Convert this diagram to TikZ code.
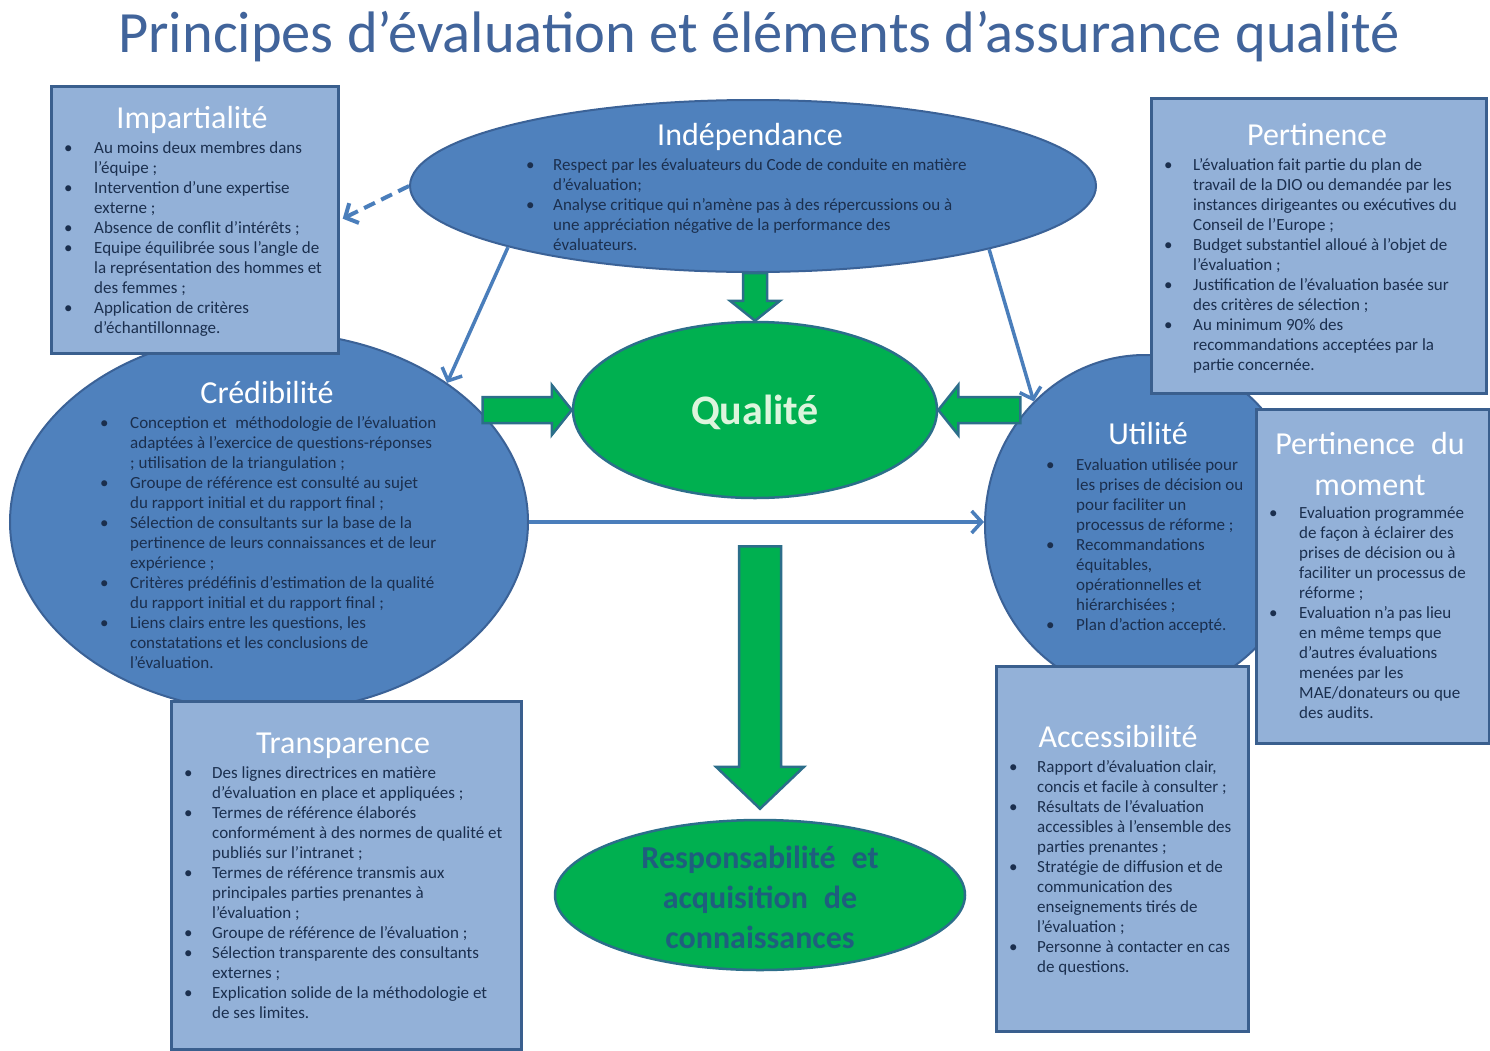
\documentclass[tikz,border=0pt]{standalone}
\usepackage{fontspec}
\setmainfont{Carlito}
\usetikzlibrary{arrows.meta,calc,shapes.geometric}

\definecolor{titleblue}{HTML}{41649B}
\definecolor{boxfill}{HTML}{93B1D8}
\definecolor{boxline}{HTML}{3A5F8E}
\definecolor{ellfill}{HTML}{4F81BD}
\definecolor{ellline}{HTML}{3B6297}
\definecolor{bodytext}{HTML}{1B2F4E}
\definecolor{qgreen}{HTML}{00B050}
\definecolor{gline}{HTML}{2C6E8A}
\definecolor{qtext}{HTML}{DDF5DD}
\definecolor{rtext}{HTML}{1F5E7E}
\definecolor{linkblue}{HTML}{4A7EBB}

% bullet list: #1 = indent of the text, #2 = rows "\textbullet & line \\ & line \\"
\newcommand{\itemlist}[2]{\begin{tabular}[t]{@{}p{#1}@{}l@{}}#2\end{tabular}}

% outlined green block arrow from #1 to #2
% #3 shaft half width, #4 head half width, #5 head length
\newcommand{\blockarrow}[5]{%
  \coordinate (ba-h) at ($(#2)!#5!(#1)$);
  \draw[garrow] ($(#1)!#3!90:(#2)$) -- ($(ba-h)!#3!90:(#2)$) -- ($(ba-h)!#4!90:(#2)$)
    -- (#2) -- ($(ba-h)!#4!-90:(#2)$) -- ($(ba-h)!#3!-90:(#2)$) -- ($(#1)!#3!-90:(#2)$) -- cycle;
}

\begin{document}
\begin{tikzpicture}[x=1pt,y=-1pt,
  panel/.style={rectangle,draw=boxline,line width=3pt,fill=boxfill,inner sep=0pt,anchor=north west},
  oval/.style={ellipse,draw=ellline,line width=2pt,fill=ellfill,inner sep=0pt},
  goval/.style={ellipse,draw=gline,line width=2.5pt,fill=qgreen,inner sep=0pt},
  hdr/.style={text=white,font=\fontsize{32}{38}\selectfont,inner sep=0pt,anchor=base},
  items/.style={text=bodytext,font=\fontsize{17}{20}\selectfont,inner sep=0pt,anchor=base west},
  link/.style={draw=linkblue,line width=3.5pt,-{Straight Barb[length=10pt,width=22pt]}},
  garrow/.style={fill=qgreen,draw=gline,line width=2.5pt,line join=miter},
]
\useasboundingbox[fill=white] (0,0) rectangle (1490,1050);

% heading
\node[font=\fontsize{58.5}{66}\selectfont,text=titleblue,inner sep=0pt,anchor=base] (title) at (759,52)
  {Principes d’évaluation et éléments d’assurance qualité};

% large ovals (behind the boxes)
\node[oval,minimum width=518pt,minimum height=380pt] (cred) at (269,522) {};
\node[oval,minimum width=320pt,minimum height=340pt] (util) at (1145,525) {};
\node[oval,minimum width=686pt,minimum height=172pt] (indep) at (753,186) {};

% green ovals
\node[goval,minimum width=364pt,minimum height=176pt] (qual) at (755,410) {};
\node[goval,minimum width=410pt,minimum height=150pt] (resp) at (760,895) {};

% boxes
\node[panel,minimum width=287pt,minimum height=267pt] (impart) at (50,85) {};
\node[panel,minimum width=335pt,minimum height=295pt] (pert) at (1150,97) {};
\node[panel,minimum width=233pt,minimum height=334pt] (moment) at (1255,408) {};
\node[panel,minimum width=350pt,minimum height=348pt] (transp) at (170,700) {};
\node[panel,minimum width=252pt,minimum height=365pt] (access) at (995,665) {};

% thin blue links
\draw[link,dash pattern=on 12pt off 7pt,line width=4pt,shorten >=3pt] (indep.west) -- (impart.east);
\draw[link] (indep.194) -- (cred.38);
\draw[link] (indep.-15) -- (util.132);
\draw[link] (cred.east) -- (cred.east -| util.west);

% green block arrows
\blockarrow{indep.south -| qual.north}{qual.north}{12pt}{25pt}{20pt}
\blockarrow{cred.27 |- qual.west}{qual.west}{13pt}{25pt}{20pt}
\blockarrow{util.139 |- qual.east}{qual.east}{13pt}{25pt}{20pt}
\coordinate (bigtop) at ($(resp.north |- qual.south)+(0,47)$);
\coordinate (bigtip) at ($(resp.north)+(0,-10)$);
\blockarrow{bigtop}{bigtip}{21pt}{44pt}{42pt}

% centre labels
\node[font=\fontsize{42}{50}\selectfont\bfseries,text=qtext,inner sep=0pt,anchor=base] (qual-t) at (755,424) {Qualité};
\node[font=\fontsize{32}{40}\selectfont\bfseries,text=rtext,inner sep=0pt,align=center] (resp-t) at (760,897)
  {Responsabilité\enspace et\\acquisition\enspace de\\connaissances};

% Impartialité
\node[hdr] (impart-t) at (192,128) {Impartialité};
\node[items] (impart-l) at (64,153) {\itemlist{30pt}{%
\textbullet & Au moins deux membres dans\\
 & l’équipe ;\\
\textbullet & Intervention d’une expertise\\
 & externe ;\\
\textbullet & Absence de conflit d’intérêts ;\\
\textbullet & Equipe équilibrée sous l’angle de\\
 & la représentation des hommes et\\
 & des femmes ;\\
\textbullet & Application de critères\\
 & d’échantillonnage.\\}};

% Indépendance
\node[hdr] (indep-t) at (750,145) {Indépendance};
\node[items] (indep-l) at (526,170) {\itemlist{27pt}{%
\textbullet & Respect par les évaluateurs du Code de conduite en matière\\
 & d’évaluation;\\
\textbullet & Analyse critique qui n’amène pas à des répercussions ou à\\
 & une appréciation négative de la performance des\\
 & évaluateurs.\\}};

% Pertinence
\node[hdr] (pert-t) at (1317,145) {Pertinence};
\node[items] (pert-l) at (1164,170) {\itemlist{29pt}{%
\textbullet & L’évaluation fait partie du plan de\\
 & travail de la DIO ou demandée par les\\
 & instances dirigeantes ou exécutives du\\
 & Conseil de l’Europe ;\\
\textbullet & Budget substantiel alloué à l’objet de\\
 & l’évaluation ;\\
\textbullet & Justification de l’évaluation basée sur\\
 & des critères de sélection ;\\
\textbullet & Au minimum 90\% des\\
 & recommandations acceptées par la\\
 & partie concernée.\\}};

% Crédibilité
\node[hdr] (cred-t) at (267,403) {Crédibilité};
\node[items] (cred-l) at (100,428) {\itemlist{30pt}{%
\textbullet & Conception et\enspace méthodologie de l’évaluation\\
 & adaptées à l’exercice de questions-réponses\\
 & ; utilisation de la triangulation ;\\
\textbullet & Groupe de référence est consulté au sujet\\
 & du rapport initial et du rapport final ;\\
\textbullet & Sélection de consultants sur la base de la\\
 & pertinence de leurs connaissances et de leur\\
 & expérience ;\\
\textbullet & Critères prédéfinis d’estimation de la qualité\\
 & du rapport initial et du rapport final ;\\
\textbullet & Liens clairs entre les questions, les\\
 & constatations et les conclusions de\\
 & l’évaluation.\\}};

% Utilité
\node[hdr] (util-t) at (1148,444) {Utilité};
\node[items] (util-l) at (1046,470) {\itemlist{30pt}{%
\textbullet & Evaluation utilisée pour\\
 & les prises de décision ou\\
 & pour faciliter un\\
 & processus de réforme ;\\
\textbullet & Recommandations\\
 & équitables,\\
 & opérationnelles et\\
 & hiérarchisées ;\\
\textbullet & Plan d’action accepté.\\}};

% Pertinence du moment
\node[hdr] (moment-t1) at (1370,454) {Pertinence\enspace du};
\node[hdr] (moment-t2) at (1370,495) {moment};
\node[items] (moment-l) at (1269,518) {\itemlist{30pt}{%
\textbullet & Evaluation programmée\\
 & de façon à éclairer des\\
 & prises de décision ou à\\
 & faciliter un processus de\\
 & réforme ;\\
\textbullet & Evaluation n’a pas lieu\\
 & en même temps que\\
 & d’autres évaluations\\
 & menées par les\\
 & MAE/donateurs ou que\\
 & des audits.\\}};

% Transparence
\node[hdr] (transp-t) at (343,753) {Transparence};
\node[items] (transp-l) at (184,778) {\itemlist{28pt}{%
\textbullet & Des lignes directrices en matière\\
 & d’évaluation en place et appliquées ;\\
\textbullet & Termes de référence élaborés\\
 & conformément à des normes de qualité et\\
 & publiés sur l’intranet ;\\
\textbullet & Termes de référence transmis aux\\
 & principales parties prenantes à\\
 & l’évaluation ;\\
\textbullet & Groupe de référence de l’évaluation ;\\
\textbullet & Sélection transparente des consultants\\
 & externes ;\\
\textbullet & Explication solide de la méthodologie et\\
 & de ses limites.\\}};

% Accessibilité
\node[hdr] (access-t) at (1118,747) {Accessibilité};
\node[items] (access-l) at (1009,772) {\itemlist{28pt}{%
\textbullet & Rapport d’évaluation clair,\\
 & concis et facile à consulter ;\\
\textbullet & Résultats de l’évaluation\\
 & accessibles à l’ensemble des\\
 & parties prenantes ;\\
\textbullet & Stratégie de diffusion et de\\
 & communication des\\
 & enseignements tirés de\\
 & l’évaluation ;\\
\textbullet & Personne à contacter en cas\\
 & de questions.\\}};
\end{tikzpicture}
\end{document}
